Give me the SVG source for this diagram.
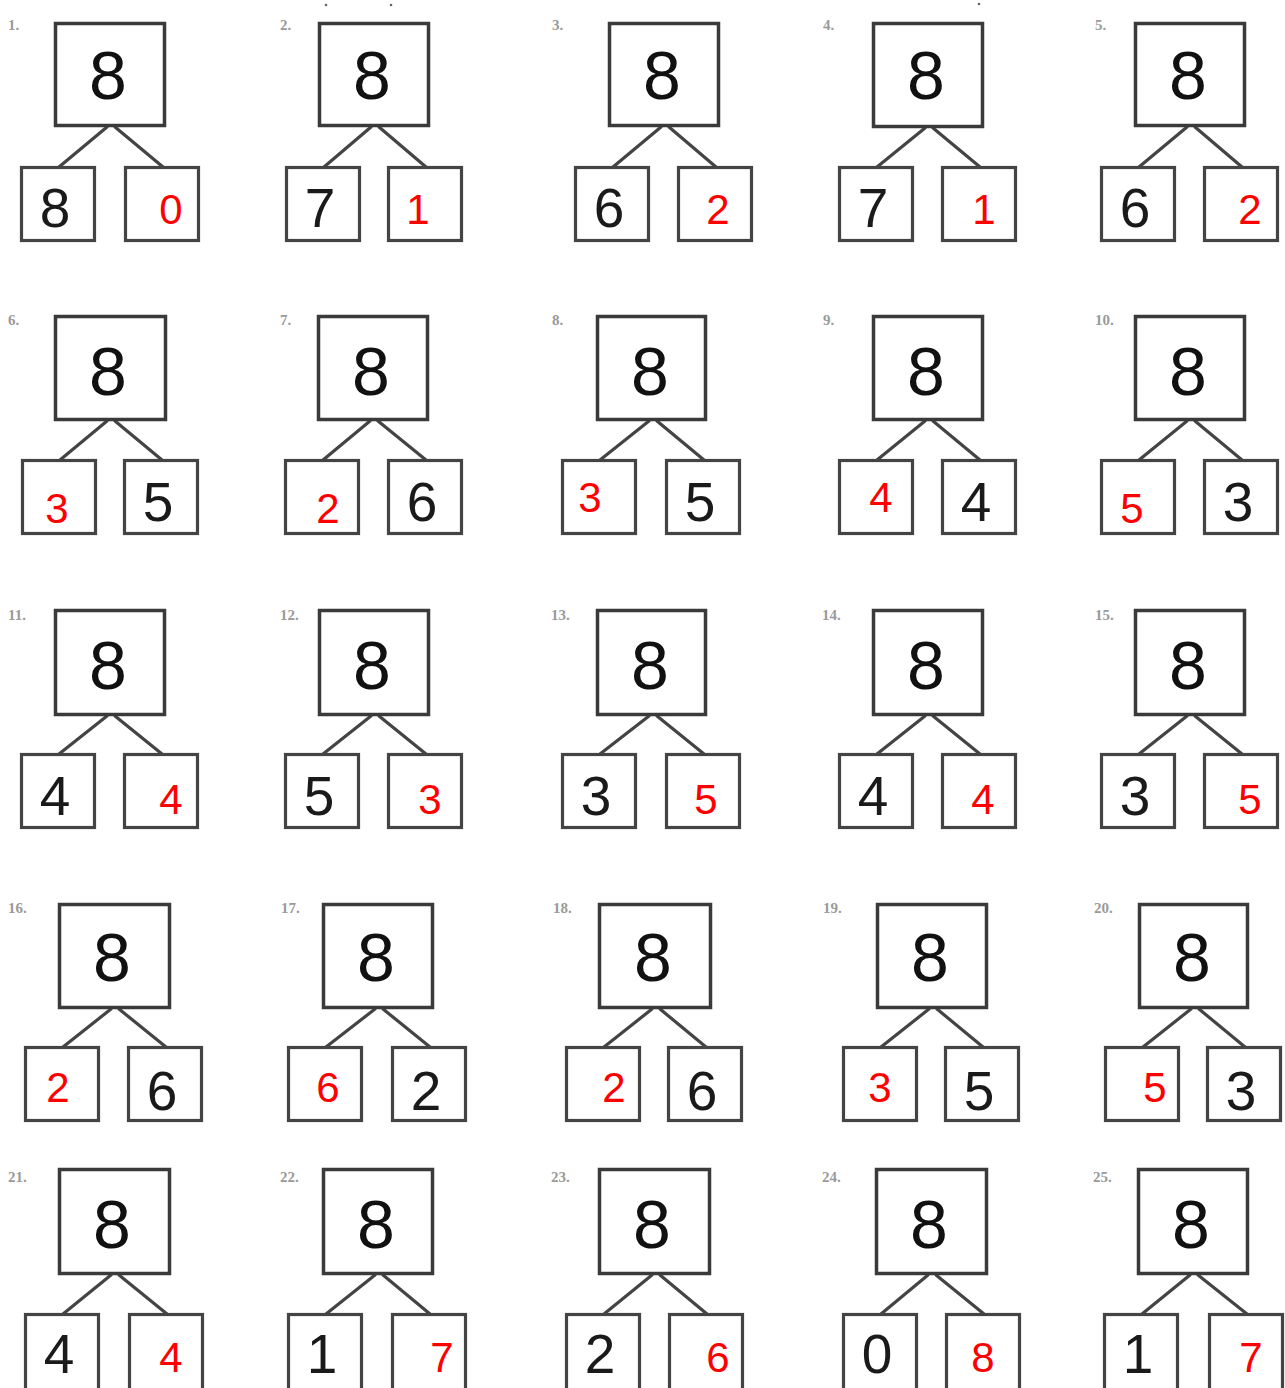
<svg xmlns="http://www.w3.org/2000/svg" width="1285" height="1388" viewBox="0 0 1285 1388">
<style>
.big{fill:#fff;stroke:#3a3a3a;stroke-width:3.5}
.sm{fill:#fff;stroke:#444;stroke-width:3.2}
.conn line{stroke:#444;stroke-width:3.2;stroke-linecap:round}
.d8{font-family:"Liberation Sans",Arial,sans-serif;font-size:68px;fill:#111;text-anchor:middle}
.blk{font-family:"Liberation Sans",Arial,sans-serif;font-size:55px;fill:#1a1a1a;text-anchor:middle}
.red{font-family:"Liberation Sans",Arial,sans-serif;font-size:42px;fill:#ff0000;text-anchor:middle}
.lbl{font-family:"Liberation Serif","Times New Roman",serif;font-size:15px;font-weight:bold;fill:#9a9a9a}
.spk{fill:#666}
</style>
<rect width="1285" height="1388" fill="#fff"/>
<g id="specks">
<circle class="spk" cx="326" cy="5" r="1.3"/><circle class="spk" cx="391" cy="5" r="1.3"/><circle class="spk" cx="979" cy="4" r="1.3"/>
</g>
<g id="connectors" class="conn">
<line x1="107" y1="127" x2="59" y2="167"/><line x1="115" y1="127" x2="163" y2="167"/>
<line x1="371" y1="127" x2="324" y2="167"/><line x1="379" y1="127" x2="426" y2="167"/>
<line x1="661" y1="127" x2="613" y2="167"/><line x1="669" y1="127" x2="716" y2="167"/>
<line x1="925" y1="128" x2="877" y2="167"/><line x1="933" y1="128" x2="980" y2="167"/>
<line x1="1187" y1="127" x2="1139" y2="167"/><line x1="1195" y1="127" x2="1242" y2="167"/>
<line x1="107" y1="421" x2="60" y2="460"/><line x1="115" y1="421" x2="162" y2="460"/>
<line x1="370" y1="421" x2="323" y2="460"/><line x1="378" y1="421" x2="426" y2="460"/>
<line x1="649" y1="421" x2="600" y2="460"/><line x1="657" y1="421" x2="704" y2="460"/>
<line x1="925" y1="421" x2="877" y2="460"/><line x1="933" y1="421" x2="980" y2="460"/>
<line x1="1187" y1="421" x2="1139" y2="460"/><line x1="1195" y1="421" x2="1242" y2="460"/>
<line x1="107" y1="716" x2="59" y2="754"/><line x1="115" y1="716" x2="162" y2="754"/>
<line x1="371" y1="716" x2="323" y2="754"/><line x1="379" y1="716" x2="426" y2="754"/>
<line x1="649" y1="716" x2="600" y2="754"/><line x1="657" y1="716" x2="704" y2="754"/>
<line x1="925" y1="716" x2="877" y2="754"/><line x1="933" y1="716" x2="980" y2="754"/>
<line x1="1187" y1="716" x2="1139" y2="754"/><line x1="1195" y1="716" x2="1242" y2="754"/>
<line x1="111" y1="1009" x2="63" y2="1047"/><line x1="119" y1="1009" x2="166" y2="1047"/>
<line x1="375" y1="1009" x2="326" y2="1047"/><line x1="383" y1="1009" x2="430" y2="1047"/>
<line x1="652" y1="1009" x2="604" y2="1047"/><line x1="660" y1="1009" x2="706" y2="1047"/>
<line x1="929" y1="1009" x2="881" y2="1047"/><line x1="937" y1="1009" x2="983" y2="1047"/>
<line x1="1191" y1="1009" x2="1143" y2="1047"/><line x1="1199" y1="1009" x2="1245" y2="1047"/>
<line x1="111" y1="1275" x2="63" y2="1314"/><line x1="119" y1="1275" x2="167" y2="1314"/>
<line x1="375" y1="1275" x2="326" y2="1314"/><line x1="383" y1="1275" x2="430" y2="1314"/>
<line x1="652" y1="1275" x2="604" y2="1314"/><line x1="660" y1="1275" x2="707" y2="1314"/>
<line x1="928" y1="1275" x2="881" y2="1314"/><line x1="936" y1="1275" x2="984" y2="1314"/>
<line x1="1190" y1="1275" x2="1142" y2="1314"/><line x1="1198" y1="1275" x2="1247" y2="1314"/>
</g>

<!-- Row 1 -->
<g id="b1-top"><text class="lbl" x="8" y="30">1.</text><rect class="big" x="55.5" y="23.5" width="109" height="102"/><text class="d8" x="108" y="99">8</text></g>
<g id="b1-left"><rect class="sm" x="21.5" y="167.5" width="73" height="73"/><text class="blk" x="55" y="227">8</text></g>
<g id="b1-right"><rect class="sm" x="125.5" y="167.5" width="73" height="73"/><text class="red" x="171" y="224">0</text></g>

<g id="b2-top"><text class="lbl" x="280" y="30">2.</text><rect class="big" x="319.5" y="23.5" width="109" height="102"/><text class="d8" x="372" y="99">8</text></g>
<g id="b2-left"><rect class="sm" x="286.5" y="167.5" width="73" height="73"/><text class="blk" x="320" y="227">7</text></g>
<g id="b2-right"><rect class="sm" x="388.5" y="167.5" width="73" height="73"/><text class="red" x="418" y="224">1</text></g>

<g id="b3-top"><text class="lbl" x="552" y="30">3.</text><rect class="big" x="609.5" y="23.5" width="109" height="102"/><text class="d8" x="662" y="99">8</text></g>
<g id="b3-left"><rect class="sm" x="575.5" y="167.5" width="73" height="73"/><text class="blk" x="609" y="227">6</text></g>
<g id="b3-right"><rect class="sm" x="678.5" y="167.5" width="73" height="73"/><text class="red" x="718" y="224">2</text></g>

<g id="b4-top"><text class="lbl" x="823" y="30">4.</text><rect class="big" x="873.5" y="23.5" width="109" height="103"/><text class="d8" x="926" y="99">8</text></g>
<g id="b4-left"><rect class="sm" x="839.5" y="167.5" width="73" height="73"/><text class="blk" x="873" y="227">7</text></g>
<g id="b4-right"><rect class="sm" x="942.5" y="167.5" width="73" height="73"/><text class="red" x="984" y="224">1</text></g>

<g id="b5-top"><text class="lbl" x="1095" y="30">5.</text><rect class="big" x="1135.5" y="23.5" width="109" height="102"/><text class="d8" x="1188" y="99">8</text></g>
<g id="b5-left"><rect class="sm" x="1101.5" y="167.5" width="73" height="73"/><text class="blk" x="1135" y="227">6</text></g>
<g id="b5-right"><rect class="sm" x="1204.5" y="167.5" width="73" height="73"/><text class="red" x="1250" y="224">2</text></g>

<!-- Row 2 -->
<g id="b6-top"><text class="lbl" x="8" y="325">6.</text><rect class="big" x="55.5" y="316.5" width="110" height="103"/><text class="d8" x="108" y="395">8</text></g>
<g id="b6-left"><rect class="sm" x="22.5" y="460.5" width="73" height="73"/><text class="red" x="57" y="523">3</text></g>
<g id="b6-right"><rect class="sm" x="124.5" y="460.5" width="73" height="73"/><text class="blk" x="158" y="521">5</text></g>

<g id="b7-top"><text class="lbl" x="280" y="325">7.</text><rect class="big" x="318.5" y="316.5" width="109" height="103"/><text class="d8" x="371" y="395">8</text></g>
<g id="b7-left"><rect class="sm" x="285.5" y="460.5" width="73" height="73"/><text class="red" x="328" y="523">2</text></g>
<g id="b7-right"><rect class="sm" x="388.5" y="460.5" width="73" height="73"/><text class="blk" x="422" y="521">6</text></g>

<g id="b8-top"><text class="lbl" x="552" y="325">8.</text><rect class="big" x="597.5" y="316.5" width="108" height="103"/><text class="d8" x="650" y="395">8</text></g>
<g id="b8-left"><rect class="sm" x="562.5" y="460.5" width="73" height="73"/><text class="red" x="590" y="512">3</text></g>
<g id="b8-right"><rect class="sm" x="666.5" y="460.5" width="73" height="73"/><text class="blk" x="700" y="521">5</text></g>

<g id="b9-top"><text class="lbl" x="823" y="325">9.</text><rect class="big" x="873.5" y="316.5" width="109" height="103"/><text class="d8" x="926" y="395">8</text></g>
<g id="b9-left"><rect class="sm" x="839.5" y="460.5" width="73" height="73"/><text class="red" x="881" y="512">4</text></g>
<g id="b9-right"><rect class="sm" x="942.5" y="460.5" width="73" height="73"/><text class="blk" x="976" y="521">4</text></g>

<g id="b10-top"><text class="lbl" x="1095" y="325">10.</text><rect class="big" x="1135.5" y="316.5" width="109" height="103"/><text class="d8" x="1188" y="395">8</text></g>
<g id="b10-left"><rect class="sm" x="1101.5" y="460.5" width="73" height="73"/><text class="red" x="1132" y="523">5</text></g>
<g id="b10-right"><rect class="sm" x="1204.5" y="460.5" width="73" height="73"/><text class="blk" x="1238" y="521">3</text></g>

<!-- Row 3 -->
<g id="b11-top"><text class="lbl" x="8" y="620">11.</text><rect class="big" x="55.5" y="610.5" width="109" height="104"/><text class="d8" x="108" y="689">8</text></g>
<g id="b11-left"><rect class="sm" x="21.5" y="754.5" width="73" height="73"/><text class="blk" x="55" y="815">4</text></g>
<g id="b11-right"><rect class="sm" x="124.5" y="754.5" width="73" height="73"/><text class="red" x="171" y="814">4</text></g>

<g id="b12-top"><text class="lbl" x="280" y="620">12.</text><rect class="big" x="319.5" y="610.5" width="109" height="104"/><text class="d8" x="372" y="689">8</text></g>
<g id="b12-left"><rect class="sm" x="285.5" y="754.5" width="73" height="73"/><text class="blk" x="319" y="815">5</text></g>
<g id="b12-right"><rect class="sm" x="388.5" y="754.5" width="73" height="73"/><text class="red" x="430" y="814">3</text></g>

<g id="b13-top"><text class="lbl" x="551" y="620">13.</text><rect class="big" x="597.5" y="610.5" width="108" height="104"/><text class="d8" x="650" y="689">8</text></g>
<g id="b13-left"><rect class="sm" x="562.5" y="754.5" width="73" height="73"/><text class="blk" x="596" y="815">3</text></g>
<g id="b13-right"><rect class="sm" x="666.5" y="754.5" width="73" height="73"/><text class="red" x="706" y="814">5</text></g>

<g id="b14-top"><text class="lbl" x="822" y="620">14.</text><rect class="big" x="873.5" y="610.5" width="109" height="104"/><text class="d8" x="926" y="689">8</text></g>
<g id="b14-left"><rect class="sm" x="839.5" y="754.5" width="73" height="73"/><text class="blk" x="873" y="815">4</text></g>
<g id="b14-right"><rect class="sm" x="942.5" y="754.5" width="73" height="73"/><text class="red" x="983" y="814">4</text></g>

<g id="b15-top"><text class="lbl" x="1095" y="620">15.</text><rect class="big" x="1135.5" y="610.5" width="109" height="104"/><text class="d8" x="1188" y="689">8</text></g>
<g id="b15-left"><rect class="sm" x="1101.5" y="754.5" width="73" height="73"/><text class="blk" x="1135" y="815">3</text></g>
<g id="b15-right"><rect class="sm" x="1204.5" y="754.5" width="73" height="73"/><text class="red" x="1250" y="814">5</text></g>

<!-- Row 4 -->
<g id="b16-top"><text class="lbl" x="8" y="913">16.</text><rect class="big" x="59.5" y="904.5" width="110" height="103"/><text class="d8" x="112" y="981">8</text></g>
<g id="b16-left"><rect class="sm" x="25.5" y="1047.5" width="73" height="73"/><text class="red" x="58" y="1102">2</text></g>
<g id="b16-right"><rect class="sm" x="128.5" y="1047.5" width="73" height="73"/><text class="blk" x="162" y="1110">6</text></g>

<g id="b17-top"><text class="lbl" x="281" y="913">17.</text><rect class="big" x="323.5" y="904.5" width="109" height="103"/><text class="d8" x="376" y="981">8</text></g>
<g id="b17-left"><rect class="sm" x="288.5" y="1047.5" width="73" height="73"/><text class="red" x="328" y="1102">6</text></g>
<g id="b17-right"><rect class="sm" x="392.5" y="1047.5" width="73" height="73"/><text class="blk" x="426" y="1110">2</text></g>

<g id="b18-top"><text class="lbl" x="553" y="913">18.</text><rect class="big" x="599.5" y="904.5" width="111" height="103"/><text class="d8" x="653" y="981">8</text></g>
<g id="b18-left"><rect class="sm" x="566.5" y="1047.5" width="73" height="73"/><text class="red" x="614" y="1102">2</text></g>
<g id="b18-right"><rect class="sm" x="668.5" y="1047.5" width="73" height="73"/><text class="blk" x="702" y="1110">6</text></g>

<g id="b19-top"><text class="lbl" x="823" y="913">19.</text><rect class="big" x="877.5" y="904.5" width="109" height="103"/><text class="d8" x="930" y="981">8</text></g>
<g id="b19-left"><rect class="sm" x="843.5" y="1047.5" width="73" height="73"/><text class="red" x="880" y="1102">3</text></g>
<g id="b19-right"><rect class="sm" x="945.5" y="1047.5" width="73" height="73"/><text class="blk" x="979" y="1110">5</text></g>

<g id="b20-top"><text class="lbl" x="1094" y="913">20.</text><rect class="big" x="1139.5" y="904.5" width="108" height="103"/><text class="d8" x="1192" y="981">8</text></g>
<g id="b20-left"><rect class="sm" x="1105.5" y="1047.5" width="73" height="73"/><text class="red" x="1155" y="1102">5</text></g>
<g id="b20-right"><rect class="sm" x="1207.5" y="1047.5" width="73" height="73"/><text class="blk" x="1241" y="1110">3</text></g>

<!-- Row 5 -->
<g id="b21-top"><text class="lbl" x="8" y="1182">21.</text><rect class="big" x="59.5" y="1169.5" width="110" height="104"/><text class="d8" x="112" y="1248">8</text></g>
<g id="b21-left"><rect class="sm" x="25.5" y="1314.5" width="73" height="80"/><text class="blk" x="59" y="1373">4</text></g>
<g id="b21-right"><rect class="sm" x="129.5" y="1314.5" width="73" height="80"/><text class="red" x="171" y="1372">4</text></g>

<g id="b22-top"><text class="lbl" x="280" y="1182">22.</text><rect class="big" x="323.5" y="1169.5" width="109" height="104"/><text class="d8" x="376" y="1248">8</text></g>
<g id="b22-left"><rect class="sm" x="288.5" y="1314.5" width="73" height="80"/><text class="blk" x="322" y="1373">1</text></g>
<g id="b22-right"><rect class="sm" x="392.5" y="1314.5" width="73" height="80"/><text class="red" x="442" y="1372">7</text></g>

<g id="b23-top"><text class="lbl" x="551" y="1182">23.</text><rect class="big" x="599.5" y="1169.5" width="110" height="104"/><text class="d8" x="652" y="1248">8</text></g>
<g id="b23-left"><rect class="sm" x="566.5" y="1314.5" width="73" height="80"/><text class="blk" x="600" y="1373">2</text></g>
<g id="b23-right"><rect class="sm" x="669.5" y="1314.5" width="73" height="80"/><text class="red" x="718" y="1372">6</text></g>

<g id="b24-top"><text class="lbl" x="822" y="1182">24.</text><rect class="big" x="876.5" y="1169.5" width="110" height="104"/><text class="d8" x="929" y="1248">8</text></g>
<g id="b24-left"><rect class="sm" x="843.5" y="1314.5" width="73" height="80"/><text class="blk" x="877" y="1373">0</text></g>
<g id="b24-right"><rect class="sm" x="946.5" y="1314.5" width="73" height="80"/><text class="red" x="983" y="1372">8</text></g>

<g id="b25-top"><text class="lbl" x="1093" y="1182">25.</text><rect class="big" x="1138.5" y="1169.5" width="109" height="104"/><text class="d8" x="1191" y="1248">8</text></g>
<g id="b25-left"><rect class="sm" x="1104.5" y="1314.5" width="73" height="80"/><text class="blk" x="1138" y="1373">1</text></g>
<g id="b25-right"><rect class="sm" x="1209.5" y="1314.5" width="73" height="80"/><text class="red" x="1251" y="1372">7</text></g>
</svg>
